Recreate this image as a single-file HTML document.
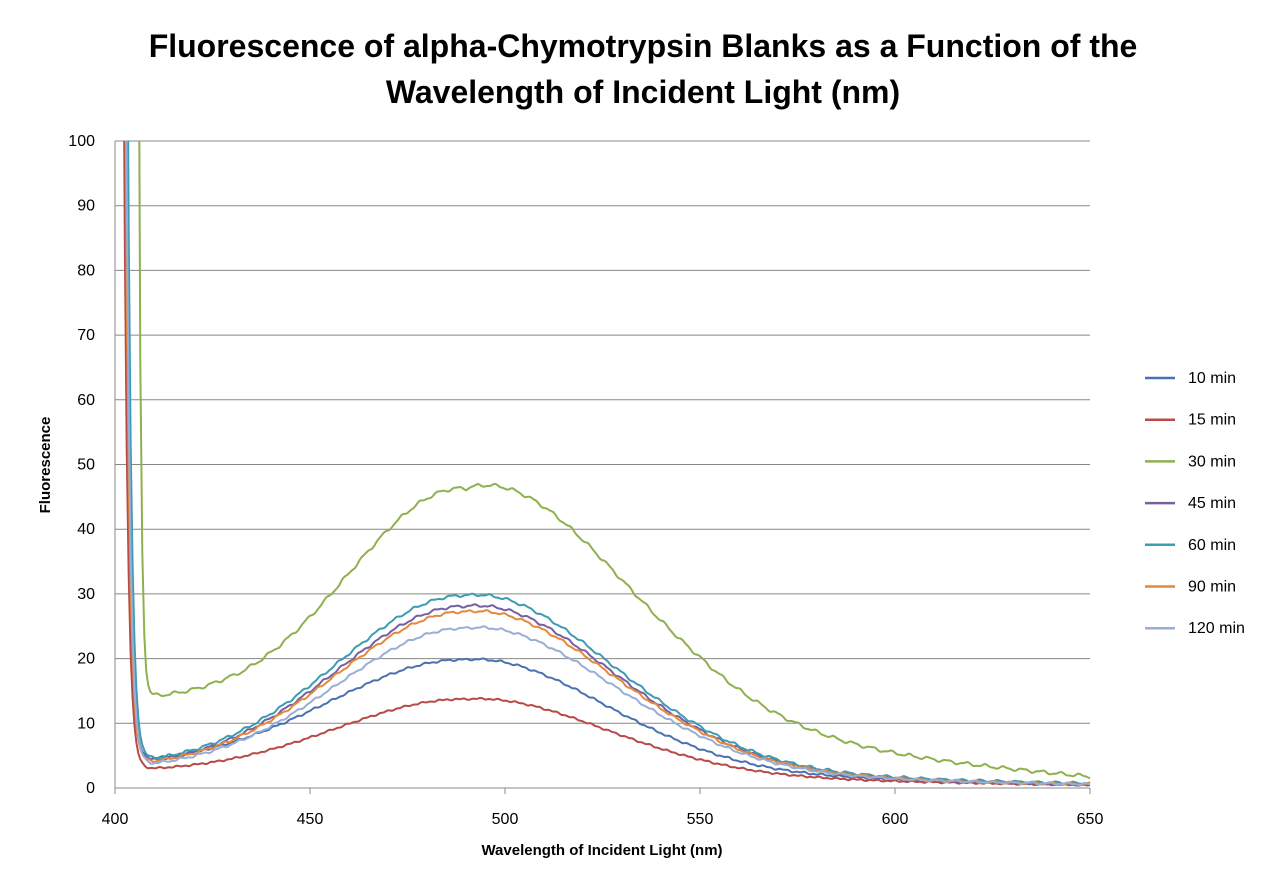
<!DOCTYPE html>
<html><head><meta charset="utf-8"><style>
body{margin:0;background:#fff;}
svg{display:block;font-family:"Liberation Sans",sans-serif;}
</style></head><body>
<svg id="s" width="1286" height="890" xmlns="http://www.w3.org/2000/svg">
<text x="643" y="57" text-anchor="middle" font-size="32" font-weight="bold">Fluorescence of alpha-Chymotrypsin Blanks as a Function of the</text>
<text x="643" y="103" text-anchor="middle" font-size="32" font-weight="bold">Wavelength of Incident Light (nm)</text>
<g id="grid" stroke="#888" stroke-width="1"></g>
<g id="ylab" font-size="16" text-anchor="end"></g>
<g id="xlab" font-size="16" text-anchor="middle"></g>
<text x="602" y="855" text-anchor="middle" font-size="15" font-weight="bold">Wavelength of Incident Light (nm)</text>
<text transform="translate(50,465) rotate(-90)" text-anchor="middle" font-size="15" font-weight="bold">Fluorescence</text>
<defs><clipPath id="c"><rect x="115" y="141" width="976" height="648"/></clipPath></defs>
<g id="series" clip-path="url(#c)" fill="none" stroke-width="2"></g>
<g id="leg" font-size="16"></g>
</svg>
<script>
const X0=115,X1=1090,Y0=788,Y1=141;
const px=x=>X0+(x-400)*(X1-X0)/250, py=v=>Y0-v*(Y0-Y1)/100;
let g=document.getElementById('grid'),yl=document.getElementById('ylab'),xl=document.getElementById('xlab');
let h='',t='';
for(let v=0;v<=100;v+=10){let y=py(v).toFixed(1);h+=`<line x1="${X0}" x2="${X1}" y1="${y}" y2="${y}"/>`;t+=`<text x="95" y="${+y+5}">${v}</text>`;}
h+=`<line x1="${X0}" x2="${X0}" y1="${Y1}" y2="${Y0}"/>`;
for(let x=400;x<=650;x+=50){h+=`<line x1="${px(x)}" x2="${px(x)}" y1="${Y0}" y2="${Y0+6}"/>`;}
g.innerHTML=h;yl.innerHTML=t;
let xt='';for(let x=400;x<=650;x+=50)xt+=`<text x="${px(x)}" y="824">${x}</text>`;xl.innerHTML=xt;
const S=[
["10 min","#4a72b0",3.3,0.4,17.5,402.6,35,34,0.6,1.0],
["15 min","#b84a47",2.4,0.4,12,402.3,33,34,0.5,1.0],
["30 min","#8fb04f",13.2,1.5,37,406.1,30,38,2.5,0.6],
["45 min","#7560a0",2.9,0.5,26,402.9,33,36,0.8,1.0],
["60 min","#3d9bb3",3.1,0.6,27.5,403.3,33,36,0.8,1.0],
["90 min","#e5883a",2.8,0.5,25.2,402.7,33,36,0.8,1.0],
["120 min","#97aed6",2.6,0.5,22.8,402.9,33,36,0.8,1.0]];
let sh='',lh='';
S.forEach((s,i)=>{
 const [n,c,b0,b1,A,x100,sl,sr,tail,k]=s;
 let d='';
 for(let x=401;x<=650;x+=0.5){
  let base=b0+(b1-b0)*Math.min(1,Math.max(0,(x-410)/240));
  if(n=="30 min"&&x<430) base=13.2-0.04*(x-410);
  let sd=x<490?sl:sr;
  let v=base+A*Math.exp(-((x-490)**2)/(2*sd*sd));
  if(x>490) v+=tail*Math.exp(-(x-560)/40)*Math.min(1,(x-490)/60);
  v+=100*Math.exp(-(x-x100)/k);
  v+=0.12*(A/20)*Math.sin(x*1.3+i)+0.08*Math.sin(x*2.9+i*2);
  d+=(d?'L':'M')+px(x).toFixed(1)+','+py(v).toFixed(1);
 }
 sh+=`<path d="${d}" stroke="${c}"/>`;
 const y=378+i*41.7;
 lh+=`<line x1="1145" x2="1175" y1="${y}" y2="${y}" stroke="${c}" stroke-width="2.5"/><text x="1188" y="${y+5}">${n}</text>`;
});
document.getElementById('series').innerHTML=sh;document.getElementById('leg').innerHTML=lh;
</script>
</body></html>
